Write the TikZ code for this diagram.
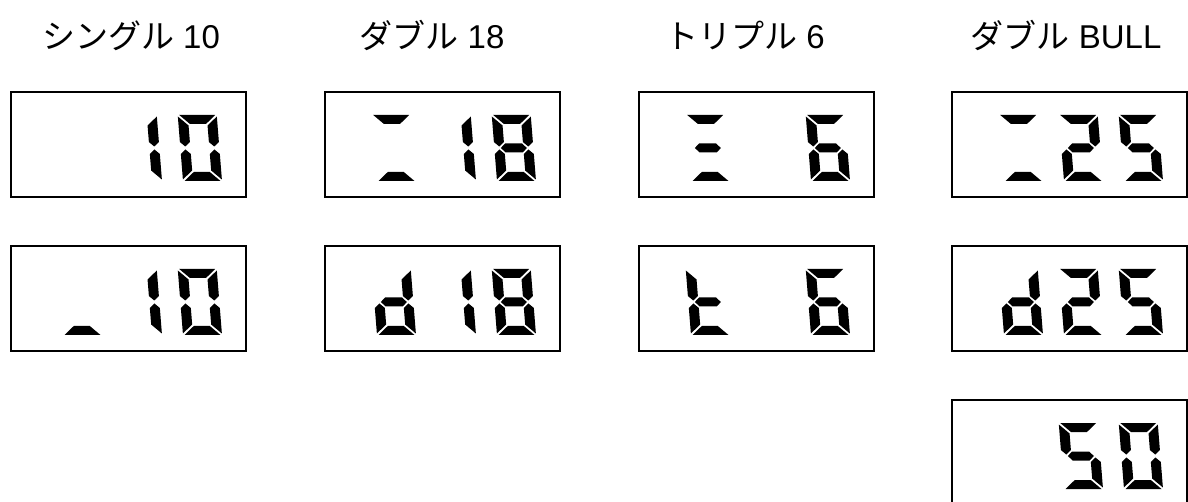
\documentclass[tikz,border=0pt]{standalone}
\usepackage{fontspec}
\setmainfont{Liberation Sans}
\newfontfamily\cjk{Noto Sans CJK JP}
\def\sega{(1.5,66) -- (37.5,66) -- (27.5,57) -- (11.5,57) -- cycle}
\def\segd{(1.5,0) -- (37.5,0) -- (27.5,9) -- (11.5,9) -- cycle}
\def\segf{(0,64.5) -- (10,55.5) -- (10,39) -- (5,34.5) -- (0,39) -- cycle}
\def\sege{(0,1.5) -- (10,10.5) -- (10,27) -- (5,31.5) -- (0,27) -- cycle}
\def\segb{(39,64.5) -- (29,55.5) -- (29,39) -- (34,34.5) -- (39,39) -- cycle}
\def\segc{(39,1.5) -- (29,10.5) -- (29,27) -- (34,31.5) -- (39,27) -- cycle}
\def\segg{(6.5,33) -- (11,37.5) -- (28,37.5) -- (32.5,33) -- (28,28.5) -- (11,28.5) -- cycle}
% #1 box node, #2 cell index (0 = rightmost), #3 segment letters
\newcommand\lcdcell[3]{%
  \begin{scope}[shift={($(#1.north west)+({173-60*#2},90)$)},yscale=-1,xslant=0.08]
    \foreach \s in {#3} {\fill[black] \csname seg\s\endcsname;}
  \end{scope}}
\usetikzlibrary{calc}
\begin{document}
\begin{tikzpicture}[x=1pt,y=-1pt,
  lcdbox/.style={draw=black,line width=1.9pt,minimum width=235pt,minimum height=105pt,inner sep=0pt,anchor=north west},
  title/.style={anchor=base,font=\fontsize{33}{40}\selectfont,inner sep=0pt}]
\useasboundingbox (0,0) rectangle (1188,502);
\clip (0,0) rectangle (1188,502);
\node[title] (t1) at (131,49) {{\cjk シングル} 10};
\node[title] (t2) at (432,49) {{\cjk ダブル} 18};
\node[title] (t3) at (745,49) {{\cjk トリプル} 6};
\node[title] (t4) at (1066,49) {{\cjk ダブル} BULL};
\node[lcdbox] (b11) at (10,91) {};
\node[lcdbox] (b12) at (10,245) {};
\node[lcdbox] (b21) at (324,91) {};
\node[lcdbox] (b22) at (324,245) {};
\node[lcdbox] (b31) at (638,91) {};
\node[lcdbox] (b32) at (638,245) {};
\node[lcdbox] (b41) at (951,91) {};
\node[lcdbox] (b42) at (951,245) {};
\node[lcdbox] (b43) at (951,399) {};
% single 10
\lcdcell{b11}{1}{b,c}
\lcdcell{b11}{0}{a,b,c,d,e,f}
\lcdcell{b12}{2}{d}
\lcdcell{b12}{1}{b,c}
\lcdcell{b12}{0}{a,b,c,d,e,f}
% double 18
\lcdcell{b21}{2}{a,d}
\lcdcell{b21}{1}{b,c}
\lcdcell{b21}{0}{a,b,c,d,e,f,g}
\lcdcell{b22}{2}{b,c,d,e,g}
\lcdcell{b22}{1}{b,c}
\lcdcell{b22}{0}{a,b,c,d,e,f,g}
% triple 6
\lcdcell{b31}{2}{a,g,d}
\lcdcell{b31}{0}{a,c,d,e,f,g}
\lcdcell{b32}{2}{f,e,g,d}
\lcdcell{b32}{0}{a,c,d,e,f,g}
% double bull
\lcdcell{b41}{2}{a,d}
\lcdcell{b41}{1}{a,b,g,e,d}
\lcdcell{b41}{0}{a,f,g,c,d}
\lcdcell{b42}{2}{b,c,d,e,g}
\lcdcell{b42}{1}{a,b,g,e,d}
\lcdcell{b42}{0}{a,f,g,c,d}
\lcdcell{b43}{1}{a,f,g,c,d}
\lcdcell{b43}{0}{a,b,c,d,e,f}
\end{tikzpicture}
\end{document}
